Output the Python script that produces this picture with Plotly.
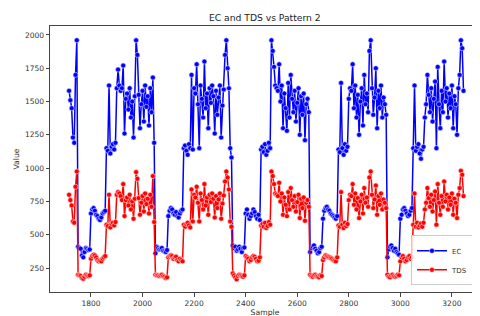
import plotly.graph_objects as go

# Sample index axis (readings every 5 samples)
sample = list(range(1715, 3246, 5))

# EC values, per cycle
ec_start = [1580, 1510, 1450, 1230, 1190, 1700, 1960]
ec_cycle1 = [410, 400, 395, 345, 330, 370, 400, 395, 385, 390,
             660, 690, 700, 680, 650, 640, 620, 610, 630, 660, 670, 680,
             1150, 1130, 1620, 1110, 1160, 1180, 1140, 1190,
             1600, 1740, 1620, 1580, 1600, 1770, 1260, 1520, 1560, 1440,
             1600, 1380, 1500, 1230, 1540, 1960, 1850, 1550, 1300, 1480,
             1580, 1350, 1620, 1460, 1540, 1320, 1600, 1420, 1680, 1190]
ec_cycle2 = [360, 410, 400, 390, 395, 400, 380, 375, 370, 385,
             640, 680, 700, 690, 660, 650, 670, 640, 630, 660, 680, 690,
             1150, 1170, 1130, 1100, 1180, 1150, 1700, 1140,
             1600, 1560, 1780, 1480, 1150, 1620, 1520, 1380, 1800, 1450,
             1560, 1300, 1600, 1490, 1620, 1540, 1260, 1580, 1400, 1530,
             1620, 1230, 1470, 1590, 1850, 1960, 1750, 1600, 1150, 1080]
ec_cycle3 = [420, 400, 410, 380, 390, 410, 395, 370, 400, 405,
             660, 690, 650, 620, 640, 660, 690, 670, 640, 620, 650, 610,
             1140, 1160, 1120, 1180, 1100, 1130, 1190, 1150,
             1960, 1880, 1760, 1620, 1600, 1580, 1780, 1500, 1620, 1300,
             1560, 1450, 1280, 1640, 1380, 1700, 1520, 1420, 1580, 1350,
             1490, 1600, 1250, 1540, 1400, 1560, 1210, 1480, 1520, 1420]
ec_cycle4 = [370, 400, 410, 420, 395, 380, 360, 370, 400, 410,
             620, 680, 700, 710, 690, 680, 660, 650, 640, 630, 620, 640,
             1140, 1120, 1640, 1150, 1100, 1180, 1130, 1160,
             1520, 1600, 1580, 1780, 1450, 1620, 1380, 1550, 1250, 1500,
             1600, 1320, 1700, 1480, 1560, 1420, 1880, 1960, 1600, 1400,
             1530, 1750, 1300, 1580, 1450, 1620, 1380, 1530, 1480, 1400]
ec_cycle5 = [330, 390, 410, 420, 400, 380, 395, 370, 360, 350,
             620, 650, 690, 700, 680, 660, 640, 650, 680, 700,
             1150, 1620, 1130, 1160, 1180, 1110, 1070, 1140,
             1160, 1380, 1480, 1700, 1550, 1420, 1600, 1350, 1520, 1650,
             1150, 1760, 1480, 1300, 1580, 1420, 1800, 1500, 1600, 1380,
             1560, 1450, 1620, 1300, 1540, 1480, 1250, 1600, 1700, 1960,
             1900, 1580]

# TDS values, per cycle
tds_start = [800, 760, 720, 600, 590, 860, 975]
tds_cycle1 = [200, 195, 190, 175, 170, 185, 200, 195, 190, 195,
              320, 340, 350, 345, 330, 310, 300, 305, 300, 320, 330, 340,
              575, 565, 800, 555, 580, 590, 570, 595,
              800, 820, 810, 790, 760, 880, 640, 760, 780, 720,
              800, 690, 750, 620, 770, 970, 920, 775, 650, 740,
              790, 675, 810, 730, 770, 660, 800, 710, 940, 595]
tds_cycle2 = [200, 195, 195, 190, 195, 200, 190, 185, 175, 180,
              330, 340, 345, 340, 320, 330, 335, 310, 300, 320, 310, 300,
              575, 560, 580, 590, 570, 555, 840, 600,
              800, 780, 860, 740, 600, 810, 760, 690, 880, 720,
              780, 650, 800, 745, 810, 770, 630, 790, 700, 765,
              810, 620, 735, 795, 900, 975, 930, 840, 600, 560]
tds_cycle3 = [210, 195, 180, 165, 190, 200, 195, 190, 185, 195,
              340, 330, 320, 300, 310, 330, 340, 335, 320, 300, 305, 330,
              570, 580, 560, 590, 550, 565, 595, 575,
              975, 940, 880, 810, 800, 790, 890, 750, 810, 650,
              780, 725, 640, 820, 690, 850, 760, 710, 790, 675,
              745, 800, 625, 770, 700, 780, 605, 740, 760, 710]
tds_cycle4 = [200, 190, 185, 195, 200, 190, 185, 180, 195, 190,
              310, 330, 345, 340, 335, 330, 325, 320, 310, 305, 300, 330,
              570, 560, 820, 575, 550, 590, 565, 580,
              760, 800, 790, 880, 725, 810, 690, 775, 625, 750,
              800, 660, 850, 740, 780, 710, 930, 975, 800, 700,
              765, 870, 650, 790, 725, 810, 690, 765, 740, 700]
tds_cycle5 = [200, 185, 180, 195, 200, 190, 185, 190, 200, 195,
              300, 330, 340, 320, 300, 310, 330, 340, 320, 330,
              575, 810, 560, 590, 555, 570, 585, 560,
              590, 690, 740, 850, 775, 710, 800, 675, 760, 825,
              575, 880, 740, 650, 790, 710, 900, 750, 800, 690,
              780, 725, 810, 650, 770, 740, 625, 800, 850, 980,
              950, 790]

x_ticks = [1800, 2000, 2200, 2400, 2600, 2800, 3000, 3200]
y_ticks = [250, 500, 750, 1000, 1250, 1500, 1750, 2000]

ec = ec_start + ec_cycle1 + ec_cycle2 + ec_cycle3 + ec_cycle4 + ec_cycle5
tds = tds_start + tds_cycle1 + tds_cycle2 + tds_cycle3 + tds_cycle4 + tds_cycle5
n = min(len(sample), len(ec), len(tds))

fig = go.Figure()
fig.add_trace(go.Scatter(
    x=sample[:n], y=ec[:n], mode="lines+markers", name="EC",
    line=dict(color="#0000ff", width=1.5),
    marker=dict(size=5, color="#0000ff", line=dict(color="#dde0ff", width=0.6)),
))
fig.add_trace(go.Scatter(
    x=sample[:n], y=tds[:n], mode="lines+markers", name="TDS",
    line=dict(color="#ff0000", width=1.5),
    marker=dict(size=5, color="#ff0000", line=dict(color="#ffdede", width=0.6)),
))

axis_common = dict(
    showline=True, mirror=True, linecolor="#444", linewidth=1,
    ticks="outside", ticklen=3.5, tickcolor="#444", tickwidth=1,
    showgrid=False, zeroline=False,
    tickfont=dict(size=7.5, color="#333"),
)

fig.update_layout(
    width=480, height=316,
    margin=dict(l=42, r=8, t=18, b=32),
    paper_bgcolor="white", plot_bgcolor="white",
    font=dict(family="DejaVu Sans", color="#333"),
    title=dict(text="EC and TDS vs Pattern 2", x=0.535, xanchor="center",
               y=1 - 10 / 316, yanchor="middle",
               font=dict(size=9.2, color="#222")),
    xaxis=dict(range=[1641, 3309], tickvals=x_ticks,
               title=dict(text="Sample", font=dict(size=7.7, color="#333"), standoff=3),
               **axis_common),
    yaxis=dict(range=[70, 2067], tickvals=y_ticks,
               title=dict(text="Value", font=dict(size=7.7, color="#333"), standoff=4),
               **axis_common),
    showlegend=True,
    legend=dict(x=0.986, y=0.025, xanchor="right", yanchor="bottom",
                bgcolor="rgba(255,255,255,0.85)", bordercolor="#cccccc", borderwidth=1,
                font=dict(size=7, color="#333"), itemwidth=30, tracegroupgap=0),
)

fig.write_html("out.html")
